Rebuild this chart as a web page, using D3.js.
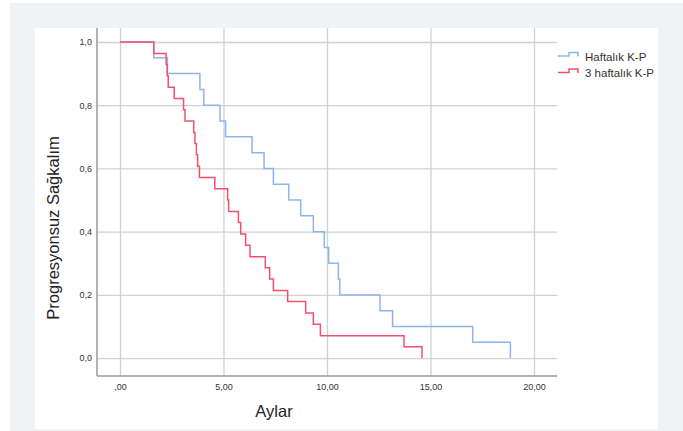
<!DOCTYPE html>
<html>
<head>
<meta charset="utf-8">
<script src="https://cdn.jsdelivr.net/npm/d3@7"></script>
<style>
  body { margin: 0; background: #fff; }
  svg { display: block; }
</style>
</head>
<body>
<div id="chart"></div>
<script>
// survival curves (months, survival)
const weeklyTimes = [0, 1.63, 2.29, 3.86, 4.05, 4.83, 5.10, 6.38, 6.96, 7.41, 8.15, 8.73, 9.34, 9.87, 10.08, 10.55, 10.62, 12.56, 13.17, 17.04, 18.86];
const weeklySurv  = [1, .95, .90, .85, .80, .75, .70, .65, .60, .55, .50, .45, .40, .35, .30, .25, .20, .15, .10, .05, 0];

const threeWeekTimes = [0, 1.63, 2.23, 2.28, 2.33, 2.62, 3.07, 3.14, 3.56, 3.62, 3.69, 3.75, 3.84, 4.58, 5.20, 5.25, 5.72, 5.83, 6.07, 6.28, 7.02, 7.23, 7.41, 8.10, 8.97, 9.34, 9.68, 13.72, 14.59];
const threeWeekSurv  = [1, .964, .929, .893, .857, .821, .786, .75, .714, .679, .643, .607, .571, .536, .5, .464, .429, .393, .357, .321, .286, .25, .214, .179, .143, .107, .071, .036, 0];

const seriesNames = ["Haftalık K-P", "3 haftalık K-P"];
const seriesColors = ["#8ab6ec", "#f2506f"];

const xTicks = [0, 5, 10, 15, 20];
const xTickLabels = [",00", "5,00", "10,00", "15,00", "20,00"];
const yTicks = [0, 0.2, 0.4, 0.6, 0.8, 1.0];
const yTickLabels = ["0,0", "0,2", "0,4", "0,6", "0,8", "1,0"];

const width = 683, height = 431;
const plot = {left: 97, right: 557, top: 28, bottom: 376};
const font = "'Liberation Sans', Arial, sans-serif";

const svg = d3.select("#chart").append("svg")
    .attr("width", width)
    .attr("height", height);

// page background + white panel
svg.append("rect").attr("x", 10).attr("y", 3).attr("width", width - 10).attr("height", height - 3).attr("fill", "#f1f2f4");
svg.append("rect").attr("x", 35).attr("y", 28).attr("width", 623).attr("height", 401).attr("fill", "#fff");

const x = d3.scaleLinear().domain([-1.111, 21.111]).range([plot.left, plot.right]);
const y = d3.scaleLinear().domain([-0.0566, 1.0443]).range([plot.bottom, plot.top]);

// axes with full-length grid lines
const yAxis = svg.append("g")
    .attr("transform", `translate(${plot.left},0)`)
    .call(d3.axisLeft(y)
      .tickValues(yTicks)
      .tickFormat((d, i) => yTickLabels[i])
      .tickSize(-(plot.right - plot.left))
      .tickPadding(5));

const xAxis = svg.append("g")
    .attr("transform", `translate(0,${plot.bottom})`)
    .call(d3.axisBottom(x)
      .tickValues(xTicks)
      .tickFormat((d, i) => xTickLabels[i])
      .tickSize(-(plot.bottom - plot.top))
      .tickPadding(7.6));

[yAxis, xAxis].forEach(g => {
  g.select(".domain").remove();
  g.selectAll(".tick line").attr("stroke", "#d2d2d2").attr("stroke-width", 1.3);
  g.selectAll(".tick text").attr("fill", "#333").style("font", `9px ${font}`);
});

// axis lines
svg.append("line").attr("x1", plot.left).attr("x2", plot.left).attr("y1", plot.top).attr("y2", plot.bottom)
    .attr("stroke", "#9a9a9a").attr("stroke-width", 1.5);
svg.append("line").attr("x1", plot.left).attr("x2", plot.right).attr("y1", plot.bottom).attr("y2", plot.bottom)
    .attr("stroke", "#9a9a9a").attr("stroke-width", 1.5);

// step curves
const line = d3.line()
    .x(d => x(d[0]))
    .y(d => y(d[1]))
    .curve(d3.curveStepAfter);

const curves = [
  d3.zip(weeklyTimes, weeklySurv),
  d3.zip(threeWeekTimes, threeWeekSurv)
];

svg.selectAll("path.km")
  .data(curves)
  .join("path")
    .attr("class", "km")
    .attr("fill", "none")
    .attr("stroke", (d, i) => seriesColors[i])
    .attr("stroke-width", 1.5)
    .attr("d", line);

// legend
const legend = svg.append("g").attr("transform", "translate(558,0)");
const rows = legend.selectAll("g")
  .data(seriesNames)
  .join("g")
    .attr("transform", (d, i) => `translate(0,${56 + i * 16.5})`);

rows.append("path")
    .attr("fill", "none")
    .attr("stroke", (d, i) => seriesColors[i])
    .attr("stroke-width", 1.5)
    .attr("d", "M0,0H11V-3.5H20V0.5");

rows.append("text")
    .attr("x", 27)
    .attr("y", 4.5)
    .attr("fill", "#333")
    .style("font", `11.5px ${font}`)
    .text(d => d);

// axis titles
svg.append("text")
    .attr("x", 274)
    .attr("y", 417)
    .attr("text-anchor", "middle")
    .attr("fill", "#222")
    .style("font", `16.5px ${font}`)
    .text("Aylar");

svg.append("text")
    .attr("transform", "translate(59,228) rotate(-90)")
    .attr("text-anchor", "middle")
    .attr("fill", "#222")
    .style("font", `16.5px ${font}`)
    .text("Progresyonsuz Sağkalım");
</script>
</body>
</html>
